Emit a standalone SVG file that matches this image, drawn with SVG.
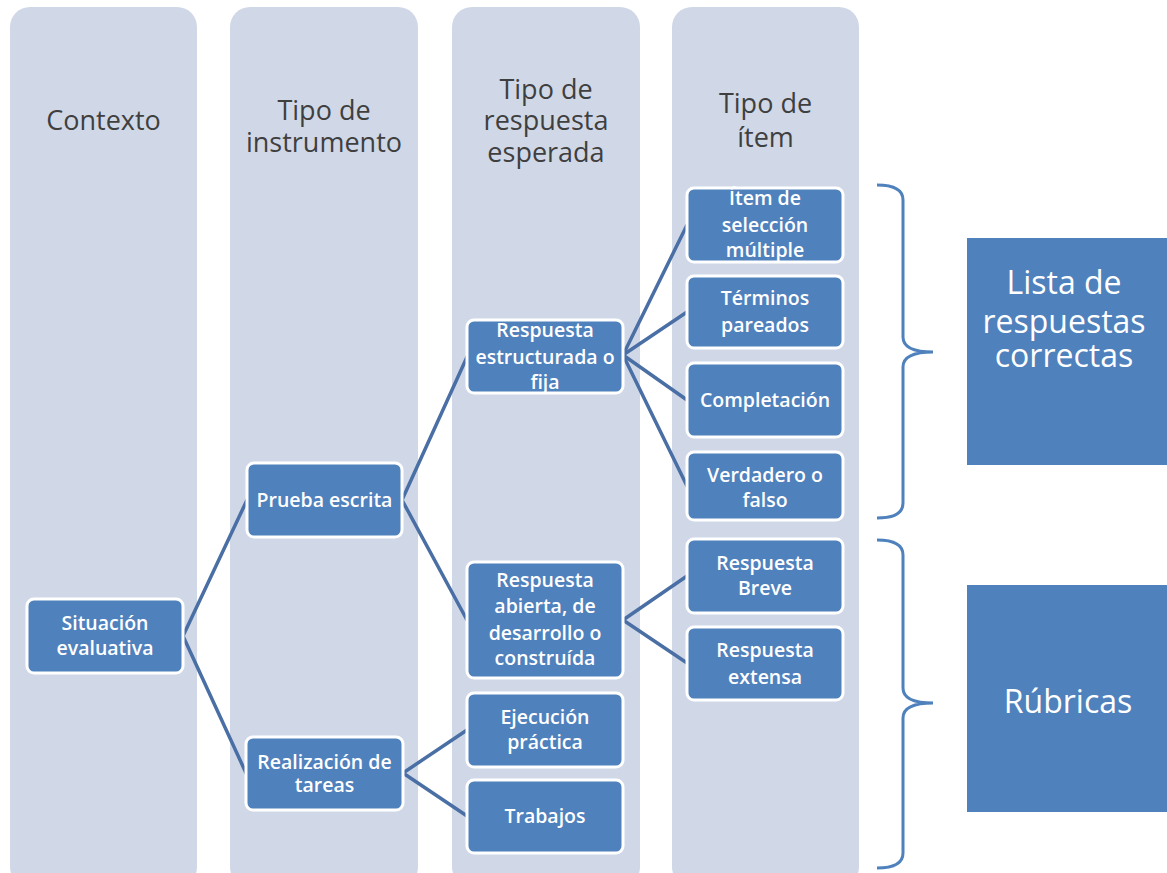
<svg xmlns="http://www.w3.org/2000/svg" width="1167" height="873" viewBox="0 0 1167 873">
<style>
.col{fill:#D0D8E8}
.hdr{font-family:"Open Sans","Liberation Sans",sans-serif;font-size:27px;fill:#3F3F3F;text-anchor:middle}
.node rect{fill:#4F81BD;stroke:#FFFFFF;stroke-width:3}
.node text{font-family:"Open Sans","Liberation Sans",sans-serif;font-size:19.5px;font-weight:600;fill:#FFFFFF;text-anchor:middle}
.big rect{fill:#4F81BD}
.big text{font-family:"Open Sans","Liberation Sans",sans-serif;font-size:32px;fill:#FFFFFF;text-anchor:middle}
.conn line{stroke:#4A6FA5;stroke-width:3.5;stroke-linecap:round}
.brace{fill:none;stroke:#4F81BD;stroke-width:3}
</style>
<rect width="1167" height="873" fill="#FFFFFF"/>
<g id="columns">
<rect class="col" x="10" y="7" width="187" height="880" rx="20"/>
<rect class="col" x="230" y="7" width="188" height="880" rx="20"/>
<rect class="col" x="452" y="7" width="188" height="880" rx="20"/>
<rect class="col" x="672" y="7" width="187" height="880" rx="20"/>
<text class="hdr" x="103.5" y="130">Contexto</text>
<text class="hdr" x="324" y="120">Tipo de</text>
<text class="hdr" x="324" y="152">instrumento</text>
<text class="hdr" x="546" y="99">Tipo de</text>
<text class="hdr" x="546" y="130">respuesta</text>
<text class="hdr" x="546" y="162">esperada</text>
<text class="hdr" x="765.5" y="113">Tipo de</text>
<text class="hdr" x="765.5" y="147">ítem</text>
</g>
<g id="connectors" class="conn">
<line x1="183" y1="636" x2="247" y2="500"/>
<line x1="183" y1="636" x2="246" y2="773"/>
<line x1="402" y1="500" x2="467" y2="357"/>
<line x1="402" y1="500" x2="467" y2="620"/>
<line x1="403" y1="773" x2="467" y2="730"/>
<line x1="403" y1="773" x2="467" y2="816"/>
<line x1="623" y1="355" x2="687" y2="225"/>
<line x1="623" y1="355" x2="687" y2="312"/>
<line x1="623" y1="355" x2="687" y2="400"/>
<line x1="623" y1="355" x2="687" y2="486"/>
<line x1="623" y1="620" x2="687" y2="576"/>
<line x1="623" y1="620" x2="687" y2="663"/>
</g>
<g id="n-situacion" class="node"><rect x="27" y="599" width="156" height="74" rx="7"/><text x="105" y="630">Situación</text><text x="105" y="655">evaluativa</text></g>
<g id="n-prueba" class="node"><rect x="247" y="463" width="155" height="74" rx="7"/><text x="324.5" y="507">Prueba escrita</text></g>
<g id="n-realizacion" class="node"><rect x="246" y="737" width="157" height="73" rx="7"/><text x="324.5" y="769">Realización de</text><text x="324.5" y="792">tareas</text></g>
<g id="n-estructurada" class="node"><rect x="467" y="320" width="156" height="73" rx="7"/><text x="545" y="337">Respuesta</text><text x="545" y="364">estructurada o</text><text x="545" y="389">fija</text></g>
<g id="n-abierta" class="node"><rect x="467" y="562" width="156" height="116" rx="7"/><text x="545" y="587">Respuesta</text><text x="545" y="613">abierta, de</text><text x="545" y="640">desarrollo o</text><text x="545" y="665">construída</text></g>
<g id="n-ejecucion" class="node"><rect x="467" y="693" width="156" height="74" rx="7"/><text x="545" y="724">Ejecución</text><text x="545" y="749">práctica</text></g>
<g id="n-trabajos" class="node"><rect x="467" y="780" width="156" height="73" rx="7"/><text x="545" y="823">Trabajos</text></g>
<g id="n-seleccion" class="node"><rect x="687" y="188" width="156" height="74" rx="7"/><text x="765" y="205">Ítem de</text><text x="765" y="232">selección</text><text x="765" y="257">múltiple</text></g>
<g id="n-terminos" class="node"><rect x="687" y="276" width="156" height="72" rx="7"/><text x="765" y="305">Términos</text><text x="765" y="332">pareados</text></g>
<g id="n-completacion" class="node"><rect x="687" y="363" width="156" height="74" rx="7"/><text x="765" y="407">Completación</text></g>
<g id="n-verdadero" class="node"><rect x="687" y="452" width="156" height="68" rx="7"/><text x="765" y="482">Verdadero o</text><text x="765" y="507">falso</text></g>
<g id="n-breve" class="node"><rect x="687" y="539" width="156" height="74" rx="7"/><text x="765" y="570">Respuesta</text><text x="765" y="595">Breve</text></g>
<g id="n-extensa" class="node"><rect x="687" y="627" width="156" height="73" rx="7"/><text x="765" y="657">Respuesta</text><text x="765" y="684">extensa</text></g>
<g id="braces">
<path class="brace" d="M877,185 Q903,185 903,200 L903,337 Q903,352 933,352 Q903,352 903,367 L903,503 Q903,518 877,518"/>
<path class="brace" d="M877,540 Q903,540 903,555 L903,688 Q903,703 933,703 Q903,703 903,718 L903,853 Q903,868 877,868"/>
</g>
<g id="n-lista" class="big"><rect x="967" y="238" width="200" height="227"/><text x="1064" y="294">Lista de</text><text x="1064" y="333">respuestas</text><text x="1064" y="367">correctas</text></g>
<g id="n-rubricas" class="big"><rect x="967" y="585" width="200" height="227"/><text x="1068" y="713">Rúbricas</text></g>
</svg>
